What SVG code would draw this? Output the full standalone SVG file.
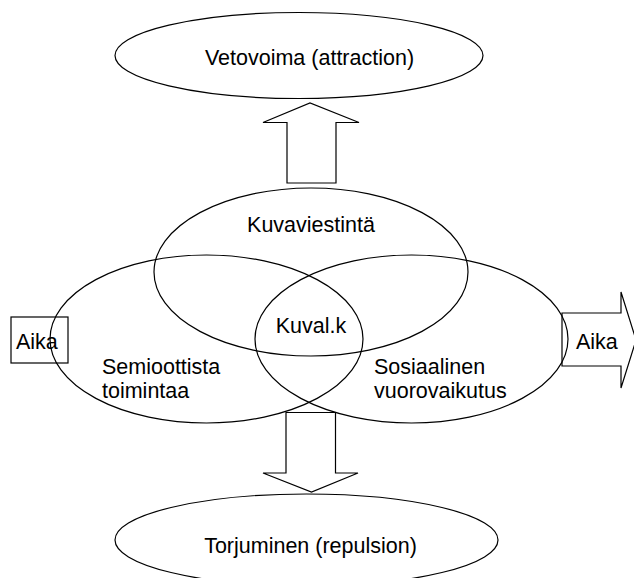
<svg xmlns="http://www.w3.org/2000/svg" width="634" height="578" viewBox="0 0 634 578">
<style>
.s{fill:none;stroke:#000;stroke-width:1.2}
.a{fill:#fff;stroke:#000;stroke-width:1.2}
text{font-family:"Liberation Sans",Arial,sans-serif;font-size:21.5px;fill:#000}
.m{text-anchor:middle}
</style>
<rect width="634" height="578" fill="#fff"/>
<g id="connectors">
<polygon class="a" points="287,183 287,122.5 263,122.5 310,103 359,122.5 336,122.5 336,183"/>
<polygon class="a" points="286,412.5 286,473 263,473 311.5,492 358,473 335.5,473 335.5,412.5"/>
<polygon class="a" points="562,313 621,313 621,292 636,340 621,388 621,366 562,366"/>
</g>
<g id="vetovoima">
<ellipse class="a" cx="299" cy="55.5" rx="184" ry="43"/>
<text class="m" x="309.5" y="65">Vetovoima (attraction)</text>
</g>
<g id="torjuminen">
<ellipse class="a" cx="306.5" cy="540" rx="191.5" ry="46"/>
<text class="m" x="310.5" y="553">Torjuminen (repulsion)</text>
</g>
<g id="aika-left">
<rect class="a" x="11" y="317" width="57" height="46"/>
<text x="16" y="349">Aika</text>
</g>
<g id="kuvaviestinta">
<ellipse class="s" cx="311" cy="272" rx="157" ry="84"/>
<text class="m" x="311" y="232">Kuvaviestintä</text>
</g>
<g id="semioottista">
<ellipse class="s" cx="206.5" cy="339" rx="156.5" ry="84"/>
<text x="102" y="373.5">Semioottista</text>
<text x="102" y="398">toimintaa</text>
</g>
<g id="sosiaalinen">
<ellipse class="s" cx="411.5" cy="339" rx="156.5" ry="84"/>
<text x="374" y="373.5">Sosiaalinen</text>
<text x="374" y="398">vuorovaikutus</text>
</g>
<g id="kuvalk">
<text class="m" x="311" y="333">Kuval.k</text>
</g>
<g id="aika-right">
<text x="576" y="349">Aika</text>
</g>
</svg>
